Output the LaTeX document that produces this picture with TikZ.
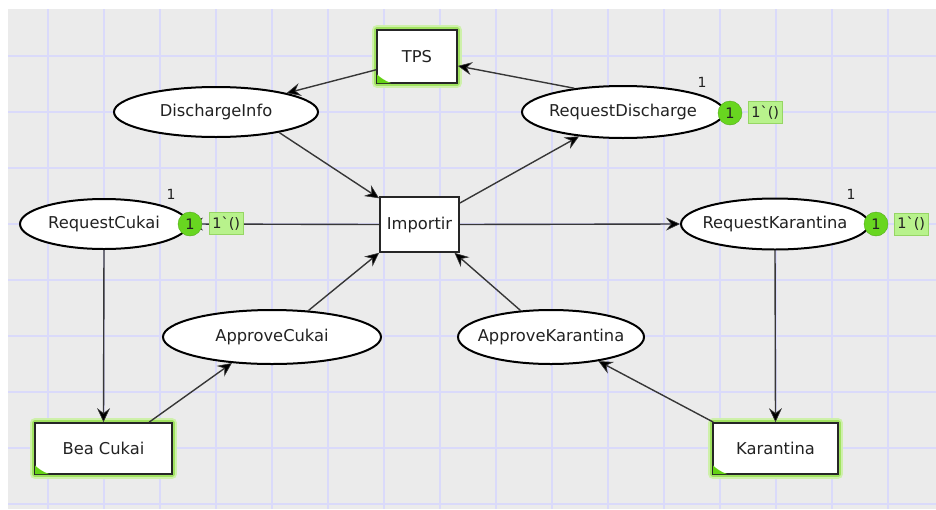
\documentclass[tikz,border=0pt]{standalone}
\usepackage{fontspec}
\setmainfont{DejaVu Sans}
\usetikzlibrary{shapes.geometric,arrows.meta}

\definecolor{canvas}{RGB}{235,235,235}
\definecolor{gridline}{RGB}{218,218,250}
\definecolor{arcgray}{RGB}{55,55,55}
\definecolor{ink}{RGB}{34,34,34}
\definecolor{tokengreen}{RGB}{104,214,32}
\definecolor{markfill}{RGB}{184,242,140}
\definecolor{markdraw}{RGB}{150,214,100}
\definecolor{haloout}{RGB}{206,240,170}
\definecolor{haloin}{RGB}{160,226,96}
\definecolor{cornergreen}{RGB}{100,210,20}

\tikzset{
  txt/.style={font=\fontsize{16.3}{19}\selectfont, text=ink},
  place/.style={ellipse, draw=black, line width=2pt, fill=white,
    inner xsep=-40pt, inner ysep=-15pt, txt},
  trans/.style={rectangle, draw=black!85, line width=1.8pt, fill=white, inner sep=0pt, txt},
  active/.style={trans,
    preaction={draw=haloout, line width=10pt, line join=round},
    preaction={draw=haloin, line width=5.5pt, line join=round}},
  arc/.style={draw=arcgray, line width=1.4pt,
    -{Stealth[length=14pt,width=13pt,inset=5pt,fill=black,line width=0.6pt]}},
  token/.style={circle, fill=tokengreen, draw=tokengreen!80!black, line width=0.4pt,
    minimum size=24pt, inner sep=0pt, font=\fontsize{14.5}{16}\selectfont, text=ink},
  marking/.style={rectangle, fill=markfill, draw=markdraw, line width=0.6pt,
    minimum height=22pt, inner xsep=3pt, inner ysep=0pt, font=\fontsize{14.5}{16}\selectfont, text=ink},
  count/.style={font=\fontsize{14}{15}\selectfont, text=ink, inner sep=0pt},
}

\begin{document}
\begin{tikzpicture}[x=1pt, y=-1pt]
  \useasboundingbox (0,0) rectangle (936,509);

  % canvas and grid
  \fill[white] (0,0) rectangle (936,509);
  \fill[canvas] (8,9) rectangle (936,509);
  \foreach \gx in {48,104,...,888} \draw[gridline, line width=1.1pt] (\gx,9) -- (\gx,509);
  \foreach \gy in {56,112,...,504} \draw[gridline, line width=1.1pt] (8,\gy) -- (936,\gy);

  % places
  \node[place, minimum width=204pt, minimum height=50pt] (dinfo) at (216,112) {DischargeInfo};
  \node[place, minimum width=202pt, minimum height=52pt] (rdis) at (623,112) {RequestDischarge};
  \node[place, minimum width=168pt, minimum height=50pt] (rcuk) at (104,224) {RequestCukai};
  \node[place, minimum width=188pt, minimum height=51pt] (rkar) at (775,224) {RequestKarantina};
  \node[place, minimum width=218pt, minimum height=54pt] (acuk) at (272,337) {ApproveCukai};
  \node[place, minimum width=186pt, minimum height=54pt] (akar) at (551,337) {ApproveKarantina};

  % transitions
  \node[active, minimum width=80pt, minimum height=53pt] (tps) at (417,56.5) {TPS};
  \node[trans, minimum width=79pt, minimum height=55pt] (imp) at (419.5,224.5) {Importir};
  \node[active, minimum width=137pt, minimum height=51pt] (bea) at (103.5,448.5) {Bea Cukai};
  \node[active, minimum width=125pt, minimum height=51pt] (kar) at (775.5,448.5) {Karantina};

  % enabled-transition corner marks
  \foreach \t in {tps,bea,kar}
    \fill[cornergreen] ([shift={(0.9pt,0.9pt)}]\t.south west) -- ++(14,0)
      .. controls ++(-6,-2) and ++(3,3) .. ([shift={(0.9pt,9.5pt)}]\t.south west) -- cycle;

  % arcs
  \draw[arc] (tps.198.6) -- (dinfo.15.4);
  \draw[arc] (rdis.154.4) -- (tps.347.3);
  \draw[arc] (dinfo.342.5) -- (imp.147.8);
  \draw[arc] (imp.28) -- (rdis.209);
  \draw[arc] (imp.west) -- (rcuk.east);
  \draw[arc] (imp.east) -- (rkar.west);
  \draw[arc] (rcuk.south) -- (bea.north);
  \draw[arc] (bea.30.4) -- (acuk.213);
  \draw[arc] (acuk.36.6) -- (imp.215.8);
  \draw[arc] (rkar.south) -- (kar.north);
  \draw[arc] (kar.157.8) -- (akar.333.9);
  \draw[arc] (akar.139) -- (imp.321.2);

  % markings
  \node[count] (rdisn) at (702,82) {1};
  \node[token] (rdist) at (730,113) {1};
  \node[marking, anchor=west] (rdism) at (748,112.5) {1\textasciigrave()};

  \node[count] (rcukn) at (171,194) {1};
  \node[token] (rcukt) at (190,224) {1};
  \node[marking, anchor=west] (rcukm) at (209,223.5) {1\textasciigrave()};

  \node[count] (rkarn) at (851,194) {1};
  \node[token] (rkart) at (876,224) {1};
  \node[marking, anchor=west] (rkarm) at (894,224) {1\textasciigrave()};
\end{tikzpicture}
\end{document}
